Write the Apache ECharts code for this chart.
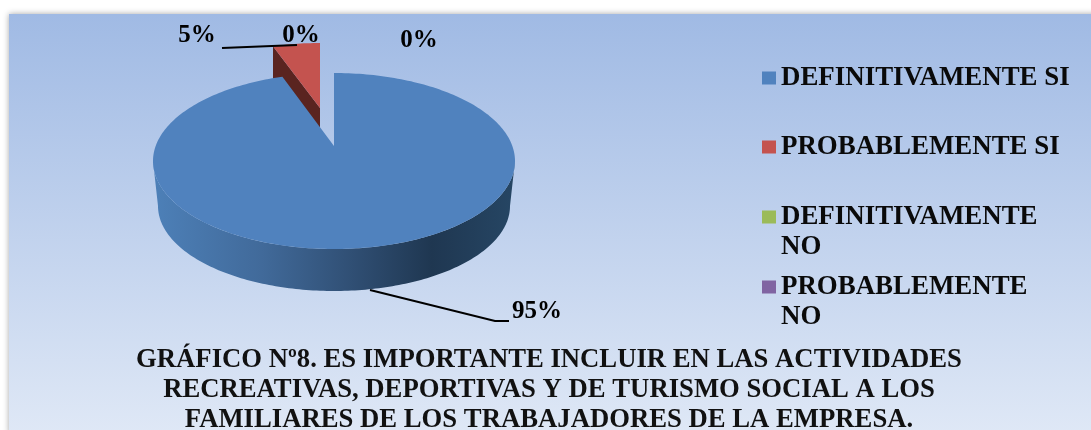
<!DOCTYPE html>
<html>
<head>
<meta charset="utf-8">
<style>html,body{margin:0;padding:0;background:#fff;overflow:hidden}#c{width:1091px;height:430px;filter:blur(0.4px)}</style>
<script src="https://cdn.jsdelivr.net/npm/echarts@6/dist/echarts.min.js"></script>
</head>
<body>
<div id="c"></div>
<script>
const categories = ['DEFINITIVAMENTE SI', 'PROBABLEMENTE SI', 'DEFINITIVAMENTE\nNO', 'PROBABLEMENTE\nNO'];
const values = [95.4, 4.6, 0, 0];
const colors = ['#5082be', '#c4534f', '#9bbb59', '#8064a2'];
const titleText = 'GRÁFICO Nº8. ES IMPORTANTE INCLUIR EN LAS ACTIVIDADES\nRECREATIVAS, DEPORTIVAS Y DE TURISMO SOCIAL A LOS\nFAMILIARES DE LOS TRABAJADORES DE LA EMPRESA.';

const SERIF = '"Liberation Serif","Times New Roman",serif';
const total = values.reduce((a, b) => a + b, 0);
const starts = values.map((_, i) => values.slice(0, i).reduce((a, b) => a + b, 0));

// drawing geometry per slice
const geom = [
  {cx: 334, cy: 161, rx: 181, ry: 88, apexLift: 15, depth: 45, brx: 176, bry: 85, bcy: 206},
  {cx: 320, cy: 123, rx: 165, ry: 80, apexLift: 15, depth: 37, side: '#5a2420'},
  null, null
];
const labelPos = [
  {x: 537, y: 312, line: [[370, 290], [495, 321], [509, 321]]},
  {x: 197, y: 36, line: [[222, 48], [297, 45]]},
  {x: 301, y: 35.5},
  {x: 419, y: 41}
];
const legendTop = [63, 132, 202, 272];
const swatchOneLine = 'rect';
const swatchTwoLines = 'path://M0,0H14V13H0Z M0,43H14Z';

function pt(g, a, rx, ry, cy) {
  return [g.cx + (rx || g.rx) * Math.sin(a), (cy || g.cy) - (ry || g.ry) * Math.cos(a)];
}
function arc(g, a0, a1, rx, ry, cy) {
  const n = Math.max(2, Math.ceil(Math.abs(a1 - a0) / 0.02));
  const out = [];
  for (let i = 0; i <= n; i++) out.push(pt(g, a0 + (a1 - a0) * i / n, rx, ry, cy));
  return out;
}
function renderSlice(idx) {
  return function (params, api) {
    const v = api.value(0);
    const children = [];
    const g = geom[idx];
    if (g && v > 0) {
      const a0 = starts[idx] / total * Math.PI * 2;
      const a1 = (starts[idx] + v) / total * Math.PI * 2;
      const apex = [g.cx, g.cy - g.apexLift];
      const top = arc(g, a0, a1);
      if (idx === 0) {
        const wa0 = Math.PI * 0.5, wa1 = Math.PI * 1.5;
        const wall = arc(g, wa0, wa1).concat(arc(g, wa1, wa0, g.brx, g.bry, g.bcy));
        children.push({
          type: 'polygon', shape: {points: wall},
          style: {fill: new echarts.graphic.LinearGradient(0, 0, 1, 0, [
            {offset: 0, color: '#4d80b8'}, {offset: 0.3, color: '#416a9a'},
            {offset: 0.55, color: '#304f74'}, {offset: 0.77, color: '#1f3751'},
            {offset: 1, color: '#264664'}
          ])}
        });
      } else {
        const left = top[0];
        const side = [apex, left, [left[0], left[1] + g.depth], [apex[0], apex[1] + g.depth]];
        children.push({type: 'polygon', shape: {points: side}, style: {fill: g.side}});
      }
      children.push({type: 'polygon', shape: {points: [apex].concat(top)}, style: {fill: api.visual('color')}});
    }
    const lp = labelPos[idx];
    if (lp.line) {
      children.push({type: 'polyline', z2: 5, shape: {points: lp.line}, style: {stroke: '#000', lineWidth: 2, fill: null}});
    }
    children.push({
      type: 'text', z2: 6, x: lp.x, y: lp.y,
      style: {text: Math.round(v / total * 100) + '%', font: 'bold 25px ' + SERIF, fill: '#000', align: 'center', verticalAlign: 'middle'}
    });
    return {type: 'group', children};
  };
}

const chart = echarts.init(document.getElementById('c'));
chart.setOption({
  animation: false,
  title: {
    text: titleText, left: 544, top: 340, textAlign: 'center',
    textStyle: {fontFamily: SERIF, fontWeight: 'bold', fontSize: 26.7, lineHeight: 30, color: '#111'}
  },
  legend: categories.map((c, i) => {
    const twoLines = c.indexOf('\n') >= 0;
    return {
      data: [c], left: 762, top: legendTop[i], orient: 'vertical', padding: 0,
      itemWidth: 14, itemHeight: twoLines ? 43 : 13,
      icon: twoLines ? swatchTwoLines : swatchOneLine, selectedMode: false, align: 'left',
      textStyle: {fontFamily: SERIF, fontWeight: 'bold', fontSize: 26.9, lineHeight: 30, color: '#0a0a0a'}
    };
  }),
  graphic: [{
    type: 'rect', z: -10, shape: {x: 9, y: 14, width: 1090, height: 420},
    style: {
      fill: new echarts.graphic.LinearGradient(0, 0, 0, 1, [
        {offset: 0, color: '#a0bae4'}, {offset: 1, color: '#dfe8f6'}
      ]),
      shadowBlur: 6, shadowColor: 'rgba(0,0,0,0.35)'
    }
  }],
  series: categories.map((c, i) => ({
    type: 'custom', name: c, coordinateSystem: 'none', z: i === 0 ? 4 : 3,
    itemStyle: {color: colors[i]},
    data: [[values[i]]],
    renderItem: renderSlice(i)
  }))
});
</script>
</body>
</html>
